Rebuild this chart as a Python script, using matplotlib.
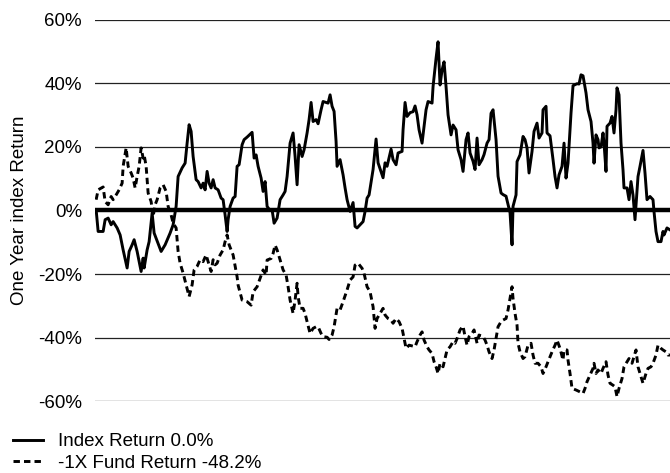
import numpy as np
import matplotlib.pyplot as plt

plt.rcParams['font.family'] = ['Liberation Sans', 'DejaVu Sans']

# index (solid) one-year return, week number vs percent
idx_week = [1, 3, 8, 10, 13, 16, 18, 22, 25, 28, 32, 34, 37, 39, 42, 44, 46, 48, 49, 52,
            54, 57, 59, 66, 70, 75, 78, 81, 83, 87, 90, 92, 94, 96, 98, 101, 103, 106, 108, 110,
            112, 114, 116, 118, 120, 123, 126, 128, 130, 132, 133, 135, 138, 140, 142, 144, 147, 149, 152, 157,
            159, 161, 163, 166, 168, 170, 172, 174, 177, 179, 182, 185, 188, 190, 192, 195, 198, 200, 202, 204,
            207, 209, 212, 214, 216, 218, 221, 223, 226, 228, 231, 233, 235, 237, 239, 241, 242, 245, 248, 250,
            252, 255, 258, 260, 262, 265, 268, 270, 272, 274, 278, 281, 283, 288, 290, 292, 296, 298, 301, 303,
            307, 308, 310, 312, 315, 318, 320, 322, 324, 327, 329, 331, 333, 337, 338, 341, 343, 345, 347, 349,
            351, 353, 356, 358, 361, 363, 366, 368, 371, 373, 375, 378, 380, 382, 384, 387, 389, 392, 394, 396,
            398, 401, 403, 406, 408, 411, 413, 415, 417, 418, 421, 422, 425, 428, 430, 432, 434, 437, 439, 442,
            444, 447, 448, 451, 452, 455, 458, 460, 462, 464, 467, 469, 471, 473, 476, 478, 482, 484, 486, 488,
            491, 493, 496, 498, 499, 501, 503, 504, 506, 508, 509, 511, 512, 515, 517, 519, 521, 522, 524, 526,
            528, 529, 532, 534, 536, 538, 540, 543, 545, 548, 550, 552, 555, 558, 559, 561, 563, 566, 568, 569,
            572, 575]
idx_ret = [0.2, -6.6, -6.6, -2.9, -2.4, -4.5, -3.5, -5.5, -7.7, -12.4, -18.1, -12.9, -10.8, -9.2, -12.9, -16.1, -19.2, -15.0, -18.1, -12.4,
           -9.8, -0.8, -7.1, -12.9, -10.8, -7.1, -4.5, 1.3, 10.7, 13.4, 14.9, 21.2, 27.0, 24.9, 17.0, 9.7, 9.1, 7.1, 8.6, 6.5,
           12.3, 8.6, 7.1, 9.7, 7.1, 6.5, 3.9, 3.4, -1.4, -6.6, -2.9, 1.3, 3.9, 4.4, 13.9, 14.4, 20.7, 22.3, 23.1, 24.6,
           16.5, 17.5, 13.9, 10.2, 6.0, 9.1, 1.3, 0.4, 0.2, -4.0, -2.4, 3.4, 4.9, 6.0, 10.7, 21.2, 24.4, 17.0, 8.1, 20.7,
           17.0, 19.1, 24.4, 28.6, 34.0, 28.0, 28.6, 27.3, 31.7, 34.3, 34.0, 33.8, 36.4, 32.8, 31.2, 21.7, 13.9, 16.0, 11.2, 7.1,
           3.4, -0.3, 2.5, -5.0, -5.5, -4.5, -3.5, -0.3, 3.9, 4.9, 12.9, 22.5, 15.0, 10.3, 15.0, 13.9, 19.3, 16.0, 14.4, 18.1,
           18.6, 25.4, 34.0, 29.6, 30.8, 31.1, 32.9, 30.1, 25.4, 21.2, 26.4, 31.7, 34.3, 33.8, 39.0, 47.9, 53.1, 39.5, 44.2, 46.8,
           39.0, 30.1, 23.8, 26.9, 25.4, 19.1, 16.0, 12.3, 22.3, 24.4, 18.1, 15.5, 12.9, 22.8, 14.4, 16.0, 17.6, 21.2, 22.3, 30.6,
           31.7, 22.3, 10.8, 5.5, 5.0, 4.5, 1.9, -0.7, -10.8, 1.3, 4.9, 15.4, 17.5, 23.3, 22.3, 19.7, 11.8, 18.6, 24.9, 27.5,
           22.8, 24.4, 31.7, 32.8, 24.4, 23.5, 16.0, 10.7, 7.1, 11.2, 13.9, 21.2, 10.2, 14.9, 30.7, 39.3, 39.9, 39.8, 42.7, 42.4,
           37.0, 31.7, 28.0, 21.2, 14.9, 23.8, 22.3, 19.7, 20.0, 24.4, 21.2, 12.3, 26.5, 27.5, 29.6, 24.4, 31.7, 38.6, 36.4, 21.2,
           12.8, 7.1, 7.1, 3.4, 9.1, 4.9, -2.9, 10.7, 13.9, 18.9, 11.8, 3.4, 4.4, 3.4, -0.3, -6.6, -9.8, -9.8, -6.6, -7.7,
           -5.5, -6.1]

# -1X fund (dashed) one-year return
fund_week = [1, 3, 8, 10, 13, 16, 18, 21, 24, 27, 28, 31, 33, 36, 38, 40, 42, 44, 46, 48,
             49, 51, 53, 56, 58, 60, 62, 65, 68, 71, 73, 76, 78, 81, 83, 85, 88, 91, 94, 97,
             99, 102, 105, 108, 111, 113, 116, 118, 120, 122, 125, 128, 130, 132, 134, 138, 142, 143, 147, 152,
             156, 158, 162, 165, 168, 171, 172, 176, 178, 180, 182, 185, 188, 191, 193, 195, 198, 200, 202, 203,
             205, 208, 210, 212, 215, 218, 221, 223, 226, 228, 232, 234, 237, 239, 242, 245, 248, 252, 255, 258,
             260, 263, 267, 269, 272, 275, 278, 280, 282, 285, 288, 290, 293, 296, 298, 301, 304, 307, 309, 311,
             314, 318, 320, 322, 325, 327, 329, 332, 334, 337, 339, 341, 343, 345, 348, 350, 352, 355, 358, 360,
             362, 365, 368, 370, 372, 374, 377, 379, 382, 384, 388, 390, 392, 394, 397, 399, 401, 403, 406, 408,
             411, 413, 415, 417, 418, 420, 422, 423, 425, 428, 430, 433, 436, 438, 440, 443, 446, 448, 451, 453,
             457, 460, 462, 465, 468, 469, 472, 473, 475, 477, 481, 485, 488, 490, 492, 495, 498, 499, 501, 503,
             506, 508, 511, 513, 515, 518, 520, 522, 524, 527, 529, 532, 534, 537, 539, 541, 543, 545, 548, 551,
             553, 556, 558, 561, 563, 566, 568, 571, 573, 575]
fund_ret = [3.4, 6.5, 7.4, 2.8, 1.8, 4.4, 3.4, 4.9, 6.5, 8.6, 13.9, 19.7, 13.9, 11.8, 10.2, 7.1, 10.7, 13.9, 19.7, 16.5,
            17.5, 13.9, 5.5, 2.8, -1.9, 1.8, 3.4, 7.1, 8.1, 6.0, 1.3, -1.4, -4.0, -5.5, -12.9, -16.6, -19.7, -23.4, -27.1, -23.4,
            -18.7, -17.6, -15.5, -16.1, -14.0, -16.1, -19.2, -15.5, -17.1, -16.6, -14.0, -12.4, -9.8, -7.7, -10.8, -14.0, -20.9, -23.5, -28.2, -28.7,
            -29.8, -25.6, -24.0, -21.4, -18.7, -20.3, -15.6, -15.1, -13.5, -10.9, -12.4, -15.6, -18.7, -20.3, -24.0, -28.2, -32.4, -28.2, -22.9, -27.1,
            -30.8, -30.8, -32.4, -35.0, -38.7, -37.1, -36.6, -36.6, -38.7, -39.7, -39.9, -40.6, -39.2, -36.6, -30.8, -31.3, -28.7, -25.0, -21.9, -20.9,
            -17.2, -16.6, -18.2, -19.8, -24.0, -25.6, -30.3, -37.1, -34.0, -32.4, -30.8, -32.9, -34.0, -34.5, -35.5, -34.0, -35.0, -37.1, -40.3, -43.4,
            -42.4, -42.7, -42.9, -41.3, -39.2, -38.2, -40.8, -42.9, -43.9, -45.0, -47.6, -49.2, -51.3, -48.1, -49.2, -46.6, -43.9, -42.9, -41.3, -41.8,
            -40.3, -37.6, -36.4, -39.7, -42.4, -39.7, -38.7, -37.6, -41.8, -39.2, -39.7, -40.8, -42.4, -44.5, -46.6, -43.9, -40.3, -36.6, -35.0, -34.5,
            -34.0, -31.3, -27.7, -24.0, -27.7, -32.4, -36.1, -41.8, -44.5, -46.6, -46.0, -42.4, -41.8, -45.5, -48.1, -48.1, -49.2, -51.3, -49.2, -47.6,
            -44.5, -42.4, -40.8, -43.4, -47.1, -43.9, -43.9, -47.1, -51.3, -56.0, -56.5, -57.1, -57.6, -56.0, -53.9, -51.8, -49.7, -48.1, -51.3, -50.2,
            -51.3, -49.7, -47.6, -51.8, -54.4, -55.0, -55.5, -58.6, -56.0, -52.9, -49.2, -47.6, -46.6, -48.1, -46.0, -43.9, -49.2, -51.3, -54.4, -51.3,
            -49.7, -49.2, -48.1, -45.5, -42.4, -43.4, -43.9, -44.5, -45.5, -45.5]

labels = ['Index Return 0.0%', '-1X Fund Return -48.2%']
yticks = [-60, -40, -20, 0, 20, 40, 60]
fs = 13.5

fig = plt.figure(figsize=(6.7, 4.73), dpi=100)
ax = fig.add_axes([0.142, 0.152, 0.858, 0.806])

for t in yticks:
    if t != 0:
        ax.axhline(t, color='#222222', lw=0.9, zorder=1)
ax.axhline(0, color='black', lw=3.2, zorder=2)

l1, = ax.plot(idx_week, idx_ret, color='black', lw=2.1, zorder=3)
l2, = ax.plot(fund_week, fund_ret, color='black', lw=2.1, ls=(0, (2.2, 1.4)), zorder=3)

ax.set_xlim(0, 575)
ax.set_ylim(-60, 60)
ax.set_xticks([])
ax.set_yticks(yticks, [f'{t}%' for t in yticks])
ax.tick_params(axis='y', length=0, pad=9.5, labelsize=fs)
for s in ax.spines.values():
    s.set_visible(False)
ax.set_ylabel('One Year index Return', fontsize=fs)
ax.yaxis.set_label_coords(-0.116, 0.5)

fig.legend([l1, l2], labels, loc='upper left', bbox_to_anchor=(0.006, 0.104),
           frameon=False, fontsize=fs, handlelength=1.6, handletextpad=0.8,
           labelspacing=0.22, borderpad=0)

fig.savefig('out.png', dpi=100)
